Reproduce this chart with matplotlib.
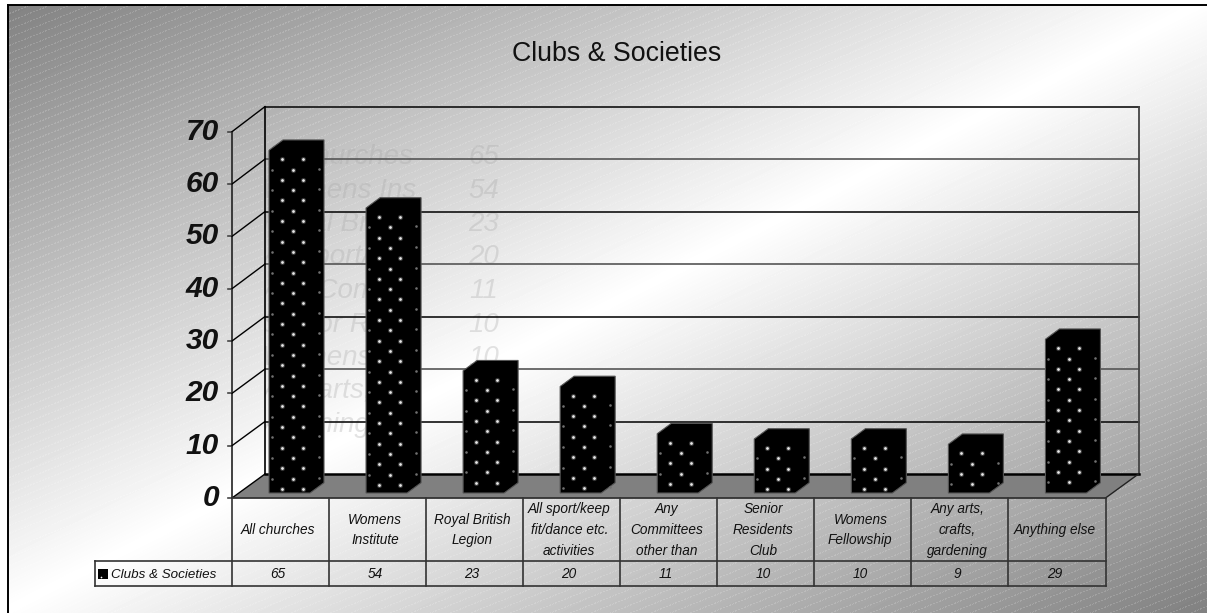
import numpy as np
import matplotlib
matplotlib.use("Agg")
import matplotlib.pyplot as plt
from matplotlib.patches import Polygon, Rectangle

categories = ["All churches", "Womens\nInstitute", "Royal British\nLegion",
              "All sport/keep\nfit/dance etc.\nactivities", "Any\nCommittees\nother than",
              "Senior\nResidents\nClub", "Womens\nFellowship", "Any arts,\ncrafts,\ngardening",
              "Anything else"]
values = [65, 54, 23, 20, 11, 10, 10, 9, 29]
series_name = "Clubs & Societies"
yticks = [0, 10, 20, 30, 40, 50, 60, 70]

W, H = 1207, 613
plt.rcParams["font.family"] = ["Liberation Sans", "DejaVu Sans"]
fig = plt.figure(figsize=(W / 100, H / 100), dpi=100, facecolor="white")

# background: diagonal gradient with a light dashed texture
bg = fig.add_axes([0, 0, 1, 1], zorder=0)
yy, xx = np.mgrid[0:H, 0:W]
t = (xx / W + yy / H) / 2
base = 255 - 2 * np.abs(t - 0.5) * (255 - 128)
mask = (((yy + 0.4 * xx) % 8) < 1.2) & ((xx % 3) < 2)
img = np.minimum(255, base + 0.16 * (255 - base) * mask)
img[:5, :] = 255
img[:, :8] = 255
bg.imshow(img, cmap="gray", vmin=0, vmax=255, aspect="auto", extent=(0, W, H, 0), interpolation="nearest")
bg.plot([8, 8], [H, 5], color="black", lw=1.4)
bg.plot([8, W], [5, 5], color="black", lw=1.4)
bg.set_xlim(0, W); bg.set_ylim(H, 0); bg.axis("off")

# main axes = front plane of the chart
LEFT, RIGHT, Y0, Y70 = 232.0, 1105.5, 498.0, 131.7
ax = fig.add_axes([LEFT / W, 1 - Y0 / H, (RIGHT - LEFT) / W, (Y0 - Y70) / H], zorder=1)
ax.set_xlim(0, 9); ax.set_ylim(0, 70)
ax.patch.set_alpha(0)
for s in ax.spines.values():
    s.set_visible(False)
PX = (RIGHT - LEFT) / 9
PY = (Y0 - Y70) / 70
n = len(values)
ddx, ddy = 33 / PX, 24 / PY
back = lambda v: ddy + v * 1.003

# y axis, wall and grid
ax.set_xticks([]); ax.set_yticks([])
ax.plot([0, 0], [0, 70], color="#222222", lw=1.2, clip_on=False, zorder=3)
for v in yticks:
    ax.plot([-4 / PX, 0], [v, v], color="#444444", lw=1.2, clip_on=False, zorder=3)
    ax.plot([0, ddx], [v, back(v)], color="black", lw=1.0, clip_on=False, zorder=3)
    if v > 0:
        ax.plot([ddx, n + ddx], [back(v), back(v)], color="#111111" if v % 20 else "#555555",
                lw=1.2, clip_on=False, zorder=2.5)
    ax.text(-13 / PX, v, str(v), ha="right", va="center", fontsize=21.5, fontweight="bold",
            fontstyle="italic", color="#111111", clip_on=False)
ax.plot([ddx, ddx], [back(0), back(70)], color="black", lw=1.2, clip_on=False, zorder=2.5)
ax.plot([n + ddx, n + ddx], [back(0), back(70)], color="#444444", lw=1.3, clip_on=False, zorder=2.5)

# floor
ax.add_patch(Polygon([(0, 0), (ddx, back(0)), (n + ddx, back(0)), (n, 0)], closed=True,
                     facecolor="#808080", edgecolor="none", clip_on=False, zorder=2))
ax.plot([ddx, n + ddx], [back(0), back(0)], color="black", lw=1.8, clip_on=False, zorder=2.6)
ax.plot([0, n], [0, 0], color="#333333", lw=1.3, clip_on=False, zorder=3)
ax.plot([n, n + ddx], [0, back(0)], color="#222222", lw=1.0, clip_on=False, zorder=3)

# faint leftover data sheet behind the bars
clip_names = Rectangle((ddx, 0), (415 - 264) / PX, 70, transform=ax.transData)
for i, (c, v) in enumerate(zip(categories, values)):
    yrow = (Y0 - (157 + 33.5 * i)) / PY
    tn = ax.text((262 - LEFT) / PX, yrow, c.replace("\n", " ")[:12], ha="left", va="center", fontsize=20,
                 fontstyle="italic", color="#a8a8a8", alpha=0.32, zorder=1.5)
    tn.set_clip_on(True)
    tn.set_clip_path(clip_names)
    ax.text((484 - LEFT) / PX, yrow, str(v), ha="center", va="center", fontsize=20,
            fontstyle="italic", color="#a8a8a8", alpha=0.32, zorder=1.5, clip_on=False)

# bars
bar_off = 37 / PX
bar_w = 41 / PX
bdx, bdy = 14 / PX, 10.3 / PY
base_y = 5 / PY         # bottom of bar front, above the front floor edge
zero_y = 6.5 / PY
for i, v in enumerate(values):
    x0 = i + bar_off
    x1 = x0 + bar_w
    top = zero_y + v * 5.25 / PY
    poly = [(x0, base_y), (x0, top), (x0 + bdx, top + bdy), (x1 + bdx, top + bdy),
            (x1 + bdx, base_y + bdy), (x1, base_y)]
    bar = Polygon(poly, closed=True, facecolor="black", edgecolor="#555555", lw=0.8, clip_on=False, zorder=4)
    ax.add_patch(bar)
    bright_x, bright_y, dim_x, dim_y = [], [], [], []
    for r in range(200):
        ry = top - (9 + 10.3 * r) / PY
        if ry <= base_y + 1 / PY:
            break
        if r % 2 == 0:
            for off in (13, 34):
                bright_x.append(x0 + off / PX); bright_y.append(ry)
        else:
            bright_x.append(x0 + 23.5 / PX); bright_y.append(ry)
            dim_x.append(x0 + 3 / PX); dim_y.append(ry)
            dim_x.append(x0 + 50 / PX); dim_y.append(ry + 1 / PY)
    ax.scatter(bright_x, bright_y, s=14, color="#888888", alpha=0.4, lw=0, zorder=5, clip_on=False)
    ax.scatter(bright_x, bright_y, s=4, color="#e8e8e8", lw=0, zorder=6, clip_on=False)
    ax.scatter(dim_x, dim_y, s=3.5, color="#707070", lw=0, zorder=5, clip_on=False)

# data table
R1 = -(560.6 - Y0) / PY
R2 = -(585.8 - Y0) / PY
LEG = (95 - LEFT) / PX
tbl = dict(color="#333333", lw=1.2, clip_on=False, zorder=3)
for i in range(n + 1):
    ax.plot([i, i], [0, R2], **tbl)
ax.plot([LEG, n], [R1, R1], **tbl)
ax.plot([LEG, n], [R2, R2], **tbl)
ax.plot([LEG, LEG], [R1, R2], **tbl)
shift = -2.5 / PX
for i, (c, v) in enumerate(zip(categories, values)):
    ax.text(i + 0.5 + shift, -(530 - Y0) / PY, c, ha="center", va="center", fontsize=9.8, fontstyle="italic",
            linespacing=1.62, color="#111111", clip_on=False)
    ax.text(i + 0.5 + shift, -(574 - Y0) / PY, str(v), ha="center", va="center", fontsize=9.8, fontstyle="italic",
            color="#111111", clip_on=False)
ax.add_patch(Rectangle(((98 - LEFT) / PX, -(579 - Y0) / PY), 10 / PX, 10 / PY, facecolor="black",
                       edgecolor="none", clip_on=False, zorder=4))
ax.scatter([(100.5 - LEFT) / PX], [-(576.5 - Y0) / PY], s=1.5, color="white", lw=0, zorder=5, clip_on=False)
ax.text((111 - LEFT) / PX, -(575 - Y0) / PY, series_name, ha="left", va="center", fontsize=9.6,
        fontstyle="italic", color="#111111", clip_on=False)

# title
fig.text(617 / W, 1 - 54 / H, series_name, ha="center", va="center", fontsize=19.3, color="#111111", zorder=5)

fig.savefig("out.png", dpi=100)
